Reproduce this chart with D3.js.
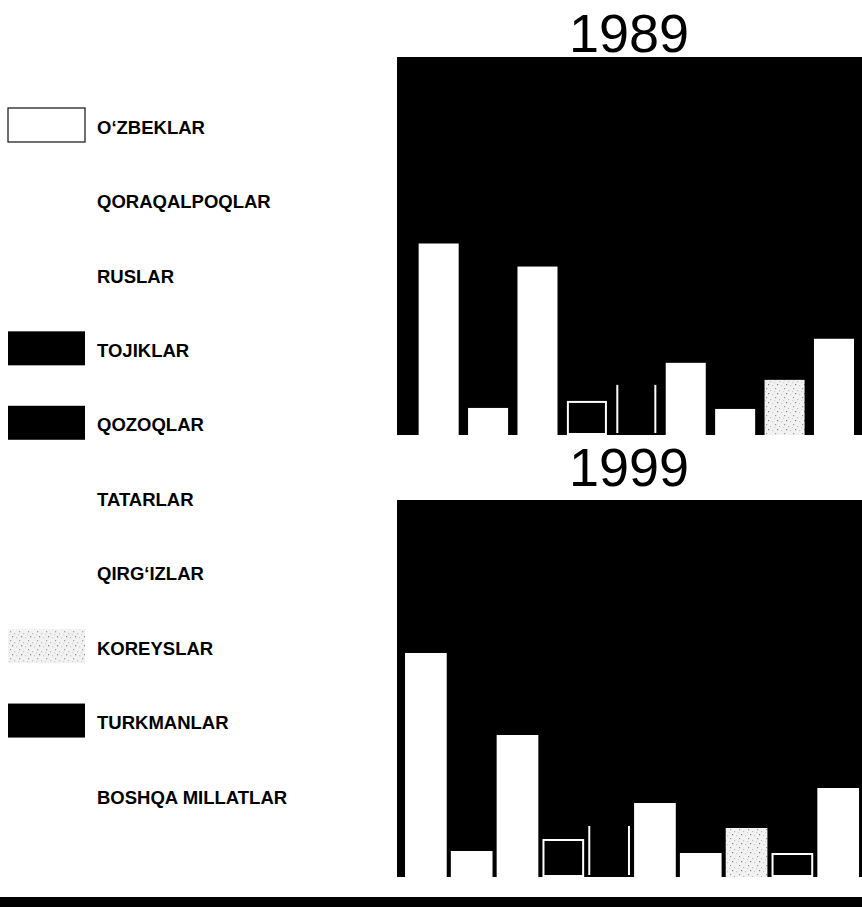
<!DOCTYPE html>
<html>
<head>
<meta charset="utf-8">
<script src="https://cdn.jsdelivr.net/npm/d3@7"></script>
<style>
  body { margin: 0; background: #fff; }
  svg { display: block; }
</style>
</head>
<body>
<div id="viz"></div>
<script>
// Categories (nationalities) and their fill style
var categories = ["O‘ZBEKLAR", "QORAQALPOQLAR", "RUSLAR", "TOJIKLAR", "QOZOQLAR",
                  "TATARLAR", "QIRG‘IZLAR", "KOREYSLAR", "TURKMANLAR", "BOSHQA MILLATLAR"];
var styles = ["white", "white", "white", "outline", "sides",
              "white", "white", "stipple", "outline", "white"];

// Bar heights (relative units, no axis in the original)
var values1989 = [191, 27, 168, 34, 50, 72, 26, 55, null, 96];
var values1999 = [224, 26, 142, 38, 51, 74, 24, 49, 24, 89];

var years = ["1989", "1999"];

var width = 862,
    height = 907;

var svg = d3.select("div#viz")
    .append("svg")
    .attr("width", width)
    .attr("height", height);

// light speckled texture for KOREYSLAR
var defs = svg.append("defs");
var pat = defs.append("pattern")
    .attr("id", "stipple")
    .attr("patternUnits", "userSpaceOnUse")
    .attr("width", 9)
    .attr("height", 9);
pat.append("rect").attr("width", 9).attr("height", 9).attr("fill", "#f2f2f2");
[[1, 1, "#9a9a9a"], [5, 3, "#bdbdbd"], [3, 6, "#7d7d7d"], [7, 7, "#c8c8c8"], [0, 4, "#d0d0d0"]]
    .forEach(function(p) {
        pat.append("rect").attr("x", p[0]).attr("y", p[1])
            .attr("width", 1.2).attr("height", 1.2).attr("fill", p[2]);
    });

// ---- legend ----
var legendY = d3.scalePoint()
    .domain(categories)
    .range([127, 797]);

var legend = svg.append("g").attr("class", "legend");

var item = legend.selectAll("g")
    .data(categories)
    .enter().append("g")
    .attr("transform", function(d) { return "translate(0," + legendY(d) + ")"; });

item.append("rect")
    .attr("x", 8)
    .attr("y", -19)
    .attr("width", 77)
    .attr("height", 34)
    .attr("fill", function(d, i) {
        var s = styles[i];
        if (s == "outline" || s == "sides") return "#000";
        if (s == "stipple") return "url(#stipple)";
        return "#fff";
    })
    .attr("stroke", function(d, i) { return i == 0 ? "#111" : "none"; })
    .attr("stroke-width", 1.2);

item.append("text")
    .attr("x", 97)
    .attr("dy", "0.36em")
    .attr("font-family", "'Liberation Sans', Arial, sans-serif")
    .attr("font-weight", "bold")
    .attr("font-size", 18.5)
    .attr("fill", "#000")
    .text(function(d) { return d; });

// ---- panels ----
var panels = [
    {year: years[0], values: values1989, top: 57, bottom: 435, titleY: 52, pad: 0.19, outer: 0.3},
    {year: years[1], values: values1999, top: 500, bottom: 877, titleY: 486, pad: 0.09, outer: 0.12}
];

panels.forEach(function(p) {
    var g = svg.append("g").attr("class", "panel");

    g.append("rect")
        .attr("x", 397)
        .attr("y", p.top)
        .attr("width", width - 397)
        .attr("height", p.bottom - p.top)
        .attr("fill", "#000");

    g.append("text")
        .attr("x", 629)
        .attr("y", p.titleY)
        .attr("text-anchor", "middle")
        .attr("font-family", "'Liberation Sans', Arial, sans-serif")
        .attr("font-size", 54)
        .attr("fill", "#000")
        .text(p.year);

    // only categories that have a bar in this year
    var rows = categories.map(function(c, i) {
        return {cat: c, value: p.values[i], style: styles[i]};
    }).filter(function(d) { return d.value != null; });

    var x = d3.scaleBand()
        .domain(rows.map(function(d) { return d.cat; }))
        .range([397, width])
        .paddingInner(p.pad)
        .paddingOuter(p.outer)
        .align(0.73);

    var y = d3.scaleLinear()
        .domain([0, 377])
        .range([p.bottom, p.top]);

    var bar = g.selectAll("g.bar")
        .data(rows)
        .enter().append("g")
        .attr("class", "bar");

    bar.append("rect")
        .attr("x", function(d) { return x(d.cat) + (d.style == "outline" ? 1 : 0); })
        .attr("y", function(d) { return y(d.value) + (d.style == "outline" ? 1 : 0); })
        .attr("width", function(d) { return x.bandwidth() - (d.style == "outline" ? 2 : 0); })
        .attr("height", function(d) { return p.bottom - y(d.value) - (d.style == "outline" ? 2 : 0); })
        .attr("fill", function(d) {
            if (d.style == "outline" || d.style == "sides") return "#000";
            if (d.style == "stipple") return "url(#stipple)";
            return "#fff";
        })
        .attr("stroke", function(d) { return d.style == "outline" ? "#fff" : "none"; })
        .attr("stroke-width", 2);

    // QOZOQLAR: black bar marked only by white side lines
    bar.filter(function(d) { return d.style == "sides"; })
        .selectAll("line")
        .data(function(d) { return [d, d]; })
        .enter().append("line")
        .attr("x1", function(d, i) { return i == 0 ? x(d.cat) + 1 : x(d.cat) + x.bandwidth() - 1; })
        .attr("x2", function(d, i) { return i == 0 ? x(d.cat) + 1 : x(d.cat) + x.bandwidth() - 1; })
        .attr("y1", function(d) { return y(d.value); })
        .attr("y2", p.bottom - 2)
        .attr("stroke", "#fff")
        .attr("stroke-width", 2);
});

// heavy rule along the bottom
svg.append("rect")
    .attr("x", 0)
    .attr("y", 897)
    .attr("width", width)
    .attr("height", height - 897)
    .attr("fill", "#000");
</script>
</body>
</html>
